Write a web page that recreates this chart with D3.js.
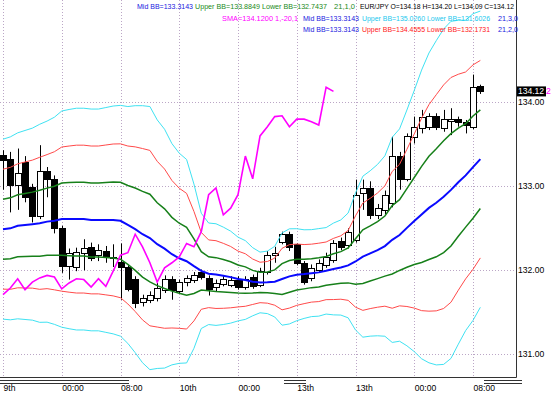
<!DOCTYPE html>
<html>
<head>
<meta charset="utf-8">
<script src="https://cdn.jsdelivr.net/npm/d3@7"></script>
<style>
body { margin: 0; background: #fff; }
svg { display: block; font-family: "Liberation Sans", Arial, sans-serif; }
</style>
</head>
<body>
<div id="chart"></div>
<script>
// EUR/JPY hourly bars
var openP  = [133.36,133.32,133.01,133.28,132.98,132.64,133.17,133.08,132.50,132.04,
              132.03,132.20,132.27,132.17,132.22,132.15,132.09,132.03,131.89,131.61,
              131.64,131.66,131.76,131.89,131.75,131.85,131.88,131.97,131.90,131.79,
              131.83,131.82,131.88,131.79,131.91,131.82,131.97,132.17,132.33,132.42,
              132.30,132.08,131.90,132.00,132.05,132.11,132.34,132.29,132.35,132.91,
              132.97,132.65,132.71,132.79,133.35,133.08,133.58,133.68,133.70,133.83,
              133.69,133.77,133.79,133.76,133.70,134.18];
var highP  = [133.42,133.40,133.44,133.35,133.02,133.48,133.22,133.12,132.52,132.25,
              132.26,132.36,132.32,132.30,132.28,132.30,132.31,132.05,131.92,131.70,
              131.74,131.84,131.93,131.92,131.88,131.93,131.97,132.00,131.93,131.88,
              131.92,131.92,131.92,131.92,131.94,132.02,132.22,132.27,132.45,132.45,
              132.31,132.10,132.06,132.12,132.20,132.35,132.38,132.49,133.07,133.07,
              133.05,132.78,132.94,133.58,133.40,133.62,133.82,133.90,133.86,133.86,
              133.90,133.92,133.82,133.78,134.32,134.20];
var lowP   = [132.95,132.68,132.71,132.80,132.56,132.60,132.86,132.43,131.96,131.88,
              131.98,131.99,132.10,132.10,132.08,132.03,131.64,131.74,131.54,131.56,
              131.60,131.62,131.72,131.64,131.72,131.80,131.84,131.88,131.69,131.74,
              131.80,131.79,131.76,131.76,131.77,131.79,131.94,132.08,132.30,132.22,
              132.05,131.82,131.86,131.96,132.02,132.08,132.23,132.25,132.32,132.71,
              132.60,132.60,132.66,132.74,132.95,133.05,133.50,133.62,133.66,133.66,
              133.64,133.60,133.70,133.62,133.67,134.09];
var closeP = [133.30,133.01,133.15,132.86,132.64,133.17,133.08,132.50,132.04,132.20,
              132.21,132.26,132.14,132.23,132.16,132.14,132.03,131.77,131.60,131.66,
              131.70,131.78,131.89,131.76,131.85,131.90,131.93,131.91,131.77,131.84,
              131.89,131.88,131.79,131.89,131.80,131.98,132.17,132.20,132.42,132.27,
              132.08,131.85,132.02,132.08,132.15,132.31,132.27,132.45,132.89,132.97,
              132.65,132.73,132.89,133.35,133.08,133.59,133.70,133.82,133.83,133.70,
              133.79,133.79,133.76,133.72,134.17,134.12];

// bands for the first 20 bars (their 21-bar window starts left of the chart)
var bbMidStart = [132.48,132.49,132.52,132.53,132.54,132.55,132.57,132.58,132.60,132.60,
                  132.60,132.60,132.59,132.59,132.59,132.59,132.58,132.53,132.48,132.42];
var bbSdStart  = [0.357,0.363,0.369,0.375,0.381,0.393,0.399,0.411,0.429,0.435,
                  0.440,0.440,0.440,0.440,0.446,0.452,0.458,0.470,0.490,0.510];
var bbPeriod = 21;
var smaShift = 20;

var timeTicks  = [0, 8, 16, 24, 32, 40, 48, 56, 64];
var timeLabels = ["9th", "00:00", "08:00", "10th", "00:00", "13th", "13th", "00:00", "08:00"];
var priceTicks = [131, 132, 133, 134];
var lastPrice = 134.12;

var width = 552, height = 395;
var plotRight = 516, plotBottom = 377;

var xScale = d3.scaleLinear().domain([0, 64]).range([3, 473]);
var yScale = d3.scaleLinear().domain([131, 134]).range([353.5, 101.5]);

// bollinger mid / deviation per bar
var bbMid = [], bbSd = [];
for (var i = 0; i < closeP.length; i++) {
    if (i < bbPeriod - 1) { bbMid.push(bbMidStart[i]); bbSd.push(bbSdStart[i]); continue; }
    var win = closeP.slice(i - bbPeriod + 1, i + 1);
    var m = d3.mean(win);
    bbMid.push(m);
    bbSd.push(Math.sqrt(d3.mean(win, function(c) { return (c - m) * (c - m); })));
}
var smaLine = closeP.slice(smaShift);

var svg = d3.select("#chart")
    .append("svg")
    .attr("width", width)
    .attr("height", height);

svg.append("clipPath").attr("id", "plotclip")
    .append("rect").attr("x", 0).attr("y", 0)
    .attr("width", plotRight).attr("height", plotBottom);

// grid
var gridColor = "#bba6c6";
svg.selectAll(".hgrid")
    .data(priceTicks)
    .enter()
    .append("line")
    .attr("x1", 0).attr("x2", plotRight)
    .attr("y1", function(d) { return Math.round(yScale(d)) + 0.5; })
    .attr("y2", function(d) { return Math.round(yScale(d)) + 0.5; })
    .attr("stroke", gridColor)
    .attr("stroke-dasharray", "1,2");
svg.selectAll(".vgrid")
    .data(timeTicks)
    .enter()
    .append("line")
    .attr("x1", function(d) { return Math.round(xScale(d)) + 0.5; })
    .attr("x2", function(d) { return Math.round(xScale(d)) + 0.5; })
    .attr("y1", 0).attr("y2", plotBottom)
    .attr("stroke", gridColor)
    .attr("stroke-dasharray", "1,2");

var plot = svg.append("g").attr("clip-path", "url(#plotclip)");

// candles
var bars = d3.range(closeP.length);
plot.selectAll(".wick")
    .data(bars)
    .enter()
    .append("line")
    .attr("x1", function(d) { return Math.round(xScale(d)) + 0.5; })
    .attr("x2", function(d) { return Math.round(xScale(d)) + 0.5; })
    .attr("y1", function(d) { return yScale(highP[d]); })
    .attr("y2", function(d) { return yScale(lowP[d]); })
    .attr("stroke", "#000");
plot.selectAll(".body")
    .data(bars)
    .enter()
    .append("rect")
    .attr("x", function(d) { return Math.round(xScale(d)) - 2.5; })
    .attr("y", function(d) { return Math.round(yScale(Math.max(openP[d], closeP[d]))) + 0.5; })
    .attr("width", 6)
    .attr("height", function(d) {
        return Math.max(1, Math.round(yScale(Math.min(openP[d], closeP[d]))) - Math.round(yScale(Math.max(openP[d], closeP[d]))));
    })
    .attr("fill", function(d) { return closeP[d] >= openP[d] ? "#fff" : "#000"; })
    .attr("stroke", "#000");

// bands
var line = d3.line()
    .x(function(d, i) { return xScale(i); })
    .y(function(d) { return yScale(d); });

var bands = [
    {k: 3, color: "#3fe2f2", w: 1},
    {k: 2, color: "#ff4a4a", w: 1},
    {k: 1, color: "#17801a", w: 1.5}
];
bands.forEach(function(b) {
    [1, -1].forEach(function(s) {
        plot.append("path")
            .datum(bbMid.map(function(v, i) { return v + s * b.k * bbSd[i]; }))
            .attr("d", line)
            .attr("fill", "none")
            .attr("stroke", b.color)
            .attr("stroke-width", b.w);
    });
});
plot.append("path")
    .datum(bbMid)
    .attr("d", line)
    .attr("fill", "none")
    .attr("stroke", "#0a0aff")
    .attr("stroke-width", 2);

plot.append("path")
    .datum(smaLine)
    .attr("d", line)
    .attr("fill", "none")
    .attr("stroke", "#ff00ff")
    .attr("stroke-width", 1.6);

// frame
svg.append("line")
    .attr("x1", plotRight + 0.5).attr("x2", plotRight + 0.5)
    .attr("y1", 0).attr("y2", plotBottom + 0.5)
    .attr("stroke", "#333");
svg.append("line")
    .attr("x1", 0).attr("x2", plotRight + 0.5)
    .attr("y1", plotBottom + 0.5).attr("y2", plotBottom + 0.5)
    .attr("stroke", "#333");

// double marks under the time scale
[[0, 129], [284, 306], [484, 522]].forEach(function(s) {
    [380.5, 383.5].forEach(function(y) {
        svg.append("line")
            .attr("x1", s[0]).attr("x2", s[1])
            .attr("y1", y).attr("y2", y)
            .attr("stroke", "#333");
    });
});

// price axis
svg.append("g")
    .attr("transform", "translate(" + (plotRight + 1) + ",0)")
    .call(d3.axisRight(yScale).tickValues(priceTicks).tickSize(0).tickPadding(1).tickFormat(d3.format(".2f")))
    .call(function(g) { g.select(".domain").remove(); })
    .selectAll("text")
    .style("font-size", "8.6px")
    .style("font-family", "Liberation Sans, Arial, sans-serif")
    .attr("fill", "#000");

// time axis
svg.append("g")
    .attr("transform", "translate(0," + plotBottom + ")")
    .call(d3.axisBottom(xScale).tickValues(timeTicks).tickSize(0).tickPadding(8)
        .tickFormat(function(d, i) { return timeLabels[i]; }))
    .call(function(g) { g.select(".domain").remove(); })
    .selectAll("text")
    .style("text-anchor", "start")
    .style("font-size", "8.6px")
    .style("font-family", "Liberation Sans, Arial, sans-serif")
    .attr("fill", "#000");

// last price tag, with the tail of the magenta SMA tag peeking out behind it
var yLast = yScale(lastPrice);
svg.append("text")
    .attr("x", plotRight + 30).attr("y", yLast + 3)
    .attr("fill", "#ff00ff")
    .style("font-size", "8.6px")
    .text("2");
svg.append("rect")
    .attr("x", plotRight + 1).attr("y", yLast - 5)
    .attr("width", 29).attr("height", 10)
    .attr("fill", "#000");
svg.append("text")
    .attr("x", plotRight + 2).attr("y", yLast + 3)
    .attr("textLength", 26)
    .attr("fill", "#fff")
    .style("font-size", "8.6px")
    .text(d3.format(".2f")(lastPrice));

// indicator captions
var captions = [
    {t: "Mid BB=133.3143", x: 137, y: 9, w: 56, c: "#2020e0"},
    {t: "Upper BB=133.8849 Lower BB=132.7437", x: 195, y: 9, w: 132, c: "#1a8a1a"},
    {t: "21,1,0", x: 334, y: 9, w: 21, c: "#1a8a1a"},
    {t: "EUR/JPY O=134.18 H=134.20 L=134.09 C=134.12", x: 360, y: 9, w: 154, c: "#000"},
    {t: "SMA=134.1200  1,-20,1", x: 222, y: 20.5, w: 76, c: "#ff00ff"},
    {t: "Mid BB=133.3143", x: 303, y: 20.5, w: 56, c: "#2020e0"},
    {t: "Upper BB=135.0260 Lower BB=131.6026", x: 362, y: 20.5, w: 128, c: "#22c8ee"},
    {t: "21,3,0", x: 498, y: 20.5, w: 20, c: "#2020e0"},
    {t: "Mid BB=133.3143", x: 303, y: 32, w: 56, c: "#2020e0"},
    {t: "Upper BB=134.4555 Lower BB=132.1731", x: 362, y: 32, w: 128, c: "#ff2020"},
    {t: "21,2,0", x: 498, y: 32, w: 20, c: "#2020e0"}
];
svg.selectAll(".caption")
    .data(captions)
    .enter()
    .append("text")
    .attr("x", function(d) { return d.x; })
    .attr("y", function(d) { return d.y; })
    .attr("textLength", function(d) { return d.w; })
    .attr("lengthAdjust", "spacingAndGlyphs")
    .attr("fill", function(d) { return d.c; })
    .style("font-size", "6.9px")
    .text(function(d) { return d.t; });
</script>
</body>
</html>
